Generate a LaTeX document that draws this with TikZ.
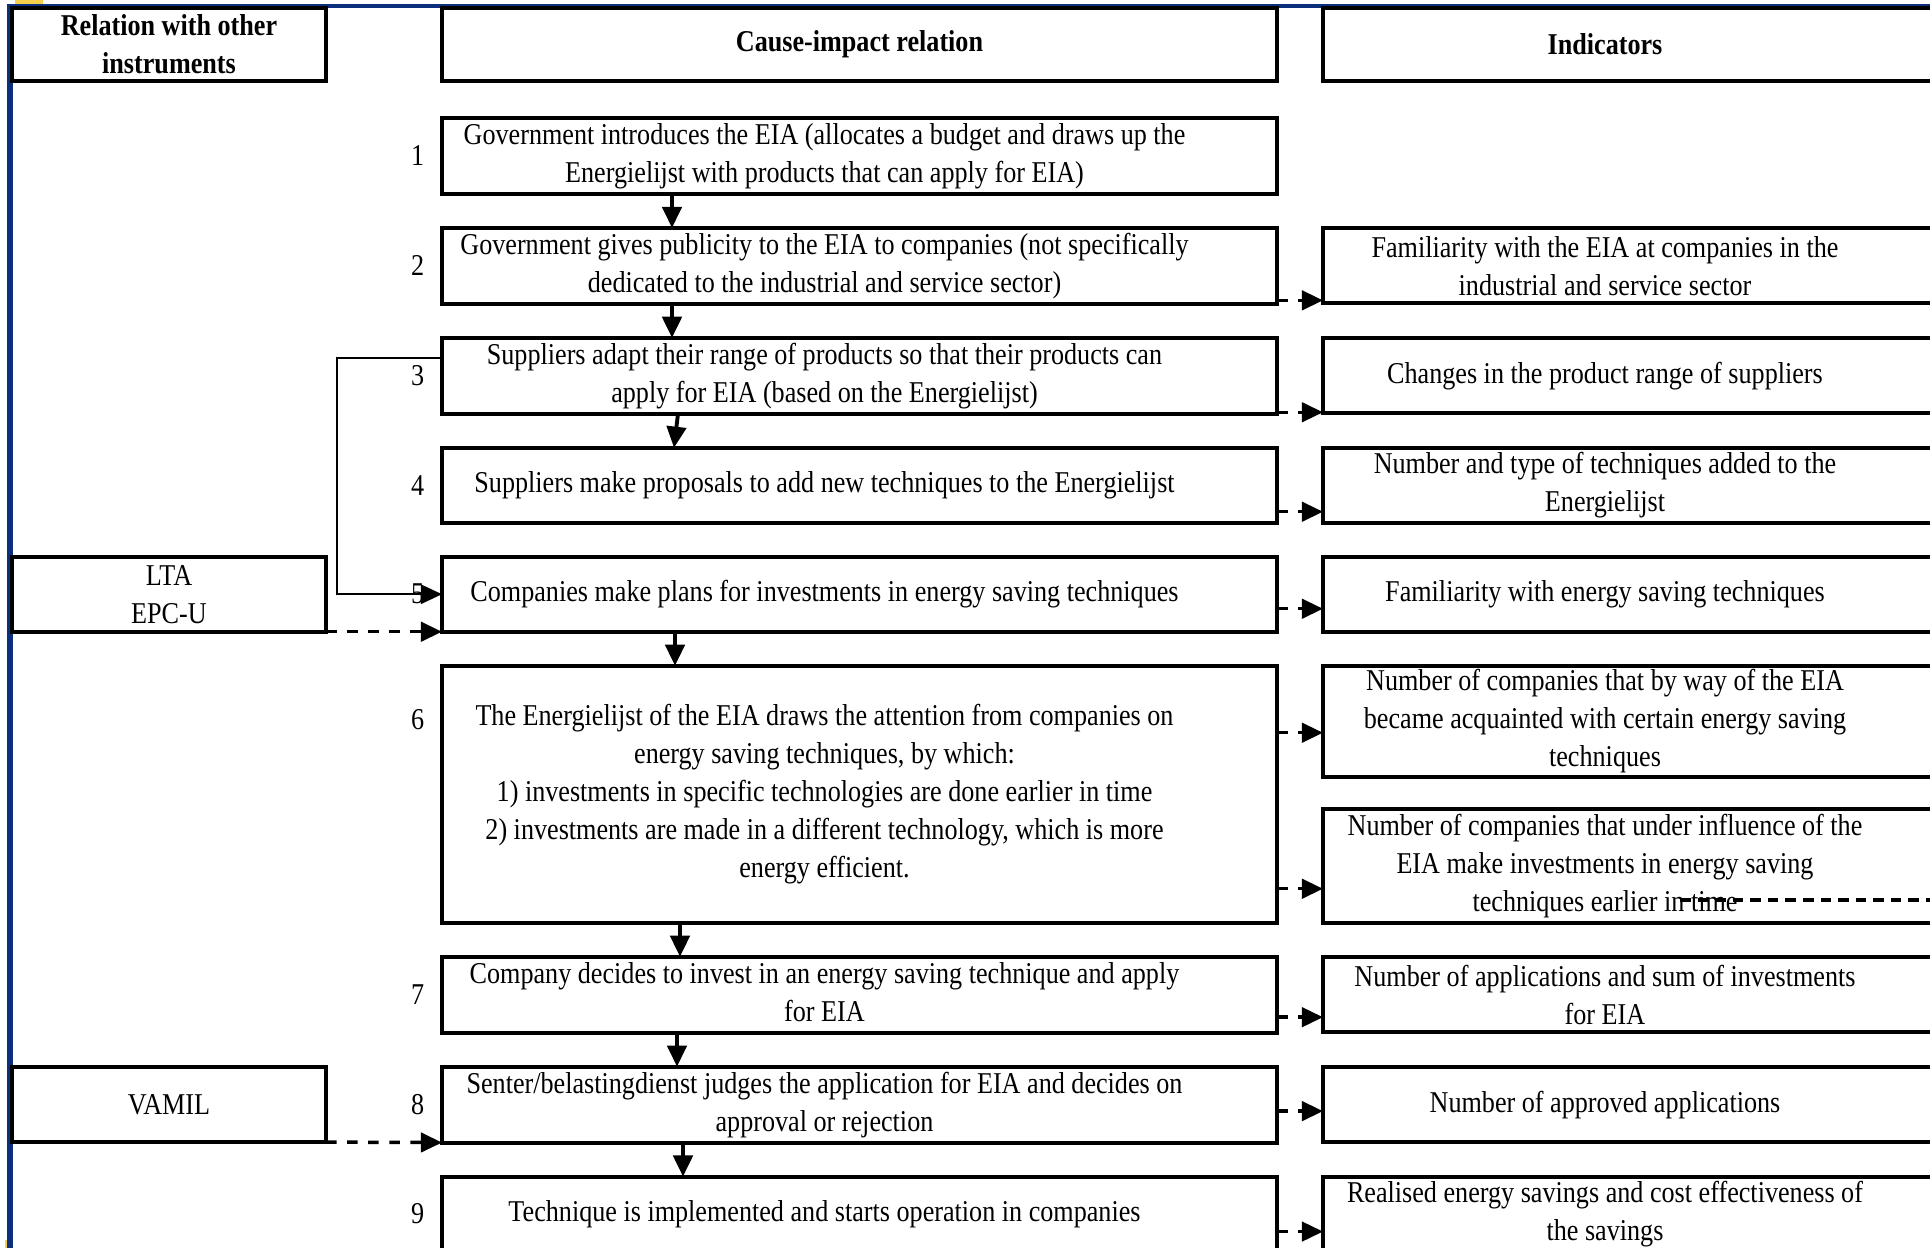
\documentclass[tikz,border=0pt]{standalone}
\usepackage{fontspec}
\setmainfont{Liberation Serif}[FakeStretch=0.865]
\usetikzlibrary{arrows.meta, positioning}

\definecolor{frameblue}{HTML}{0B2F7C}
\definecolor{frameyellow}{HTML}{F6CF4B}

% lines of a step, set a little left of the box centre
\newcommand{\causetext}[1]{\begin{tabular}{@{}c@{}}#1\end{tabular}\kern0.7cm}

\begin{document}
\begin{tikzpicture}[>={Triangle[length=6pt, width=5.5pt]},
    font=\fontsize{8.6pt}{10.8pt}\selectfont,
    box/.style={draw, line width=1.1pt, outer sep=0pt, inner sep=1pt, align=center},
    headbox/.style={box, font=\fontsize{8.6pt}{10.8pt}\selectfont\bfseries, minimum height=0.73cm},
    causebox/.style={draw, line width=1.1pt, outer sep=0pt, inner sep=0pt, minimum width=8.35cm, minimum height=0.75cm},
    instbox/.style={box, minimum width=3.14cm, minimum height=0.75cm},
    indbox/.style={outer sep=0pt, inner sep=1pt, align=center, minimum width=5.64cm, minimum height=0.75cm},
    num/.style={inner sep=0pt},
    flow/.style={->, line width=1.1pt},
    link/.style={->, line width=0.5pt},
    measure/.style={->, line width=1pt, dash pattern=on 3pt off 3pt}]

    % ================= Canvas =================
    \clip (0,0) rectangle (19.30,-12.48);
    \fill[frameyellow] (0.15,0) rectangle (0.43,-0.04);
    \fill[frameyellow] (0.05,-12.40) rectangle (0.09,-12.48);
    \draw[frameblue, line width=1.7pt] (0.10,-12.48) -- (0.10,-0.06);
    \draw[frameblue, line width=1.1pt] (0.07,-0.06) -- (19.40,-0.06);

    % ================= Column headers =================
    \node[headbox, minimum width=3.14cm, anchor=north west] (lh) at (0.12,-0.08) {Relation with other\\instruments};
    \node[headbox, minimum width=8.35cm, anchor=north west] (mh) at (4.42,-0.08) {Cause-impact relation};
    \node[headbox, draw=none, minimum width=5.64cm, right=0.46cm of mh] (rh) {Indicators};

    % ================= Cause-impact chain =================
    \node[causebox, below=0.37cm of mh] (m1) {\causetext{Government introduces the EIA (allocates a budget and draws up the\\Energielijst with products that can apply for EIA)}};
    \node[causebox, below=0.34cm of m1] (m2) {\causetext{Government gives publicity to the EIA to companies (not specifically\\dedicated to the industrial and service sector)}};
    \node[causebox, below=0.34cm of m2] (m3) {\causetext{Suppliers adapt their range of products so that their products can\\apply for EIA (based on the Energielijst)}};
    \node[causebox, below=0.34cm of m3] (m4) {\causetext{Suppliers make proposals to add new techniques to the Energielijst}};
    \node[causebox, below=0.34cm of m4] (m5) {\causetext{Companies make plans for investments in energy saving techniques}};
    \node[causebox, below=0.34cm of m5, minimum height=2.57cm] (m6) {\causetext{The Energielijst of the EIA draws the attention from companies on\\energy saving techniques, by which:\\1) investments in specific technologies are done earlier in time\\2) investments are made in a different technology, which is more\\energy efficient.}};
    \node[causebox, below=0.34cm of m6] (m7) {\causetext{Company decides to invest in an energy saving technique and apply\\for EIA}};
    \node[causebox, below=0.34cm of m7] (m8) {\causetext{Senter/belastingdienst judges the application for EIA and decides on\\approval or rejection}};
    \node[causebox, below=0.34cm of m8] (m9) {\causetext{Technique is implemented and starts operation in companies}};

    % step numbers
    \node[num, left=0.17cm of m1] (n1) {1};
    \node[num, left=0.17cm of m2] (n2) {2};
    \node[num, left=0.17cm of m3] (n3) {3};
    \node[num, left=0.17cm of m4] (n4) {4};
    \node[num, left=0.17cm of m5] (n5) {5};
    \node[num, left=0.17cm of m6.west, yshift=0.75cm] (n6) {6};
    \node[num, left=0.17cm of m7] (n7) {7};
    \node[num, left=0.17cm of m8] (n8) {8};
    \node[num, left=0.17cm of m9] (n9) {9};

    % ================= Other instruments =================
    \node[instbox, left=1.16cm of m5] (lta) {LTA\\EPC-U};
    \node[instbox, left=1.16cm of m8] (vamil) {VAMIL};

    % ================= Indicators =================
    \node[indbox, right=0.46cm of m2] (r2) {Familiarity with the EIA at companies in the\\industrial and service sector};
    \node[indbox, right=0.46cm of m3] (r3) {Changes in the product range of suppliers};
    \node[indbox, right=0.46cm of m4] (r4) {Number and type of techniques added to the\\Energielijst};
    \node[indbox, right=0.46cm of m5] (r5) {Familiarity with energy saving techniques};
    \node[indbox, minimum height=1.11cm, right=0.46cm of m6.north east, anchor=north west] (r6a) {Number of companies that by way of the EIA\\became acquainted with certain energy saving\\techniques};
    \node[indbox, minimum height=1.14cm, right=0.46cm of m6.south east, anchor=south west] (r6b) {Number of companies that under influence of the\\EIA make investments in energy saving\\techniques earlier in time};
    \node[indbox, right=0.46cm of m7] (r7) {Number of applications and sum of investments\\for EIA};
    \node[indbox, right=0.46cm of m8] (r8) {Number of approved applications};
    \node[indbox, right=0.46cm of m9] (r9) {Realised energy savings and cost effectiveness of\\the savings};

    % indicator boxes run off the right edge
    \foreach \n in {rh,r2,r3,r4,r5,r6a,r6b,r7,r8,r9}
        \draw[line width=1.1pt] ([xshift=1cm]\n.north east) -- (\n.north west) -- (\n.south west) -- ([xshift=1cm]\n.south east);

    % ================= Connectors =================
    \foreach \a/\b/\dxa/\dxb in {m1/m2/-1.875/-1.875, m2/m3/-1.875/-1.875, m3/m4/-1.815/-1.855,
                                 m5/m6/-1.845/-1.845, m6/m7/-1.795/-1.795, m7/m8/-1.825/-1.825, m8/m9/-1.765/-1.765}
        \draw[flow] ([xshift=\dxa cm]\a.south) -- ([xshift=\dxb cm]\b.north);

    % suppliers feed the investment plans
    \draw[link] ([yshift=-0.2cm]m3.north west) -- ++(-1.05,0) |- (m5.west);

    % other instruments
    \draw[measure] (lta.south east) -- (m5.south west);
    \draw[measure] (vamil.south east) -- (m8.south west);

    % step -> indicator
    \foreach \s/\d/\dy in {m2/r2/0.03, m3/r3/0.01, m4/r4/0.11, m5/r5/0.23, m6/r6a/0.44,
                           m6/r6b/0.34, m7/r7/0.15, m8/r8/0.31, m9/r9/0.20} {
        \coordinate (t) at ([yshift=\dy cm]\d.south west);
        \draw[measure] (t -| \s.east) -- (t);
    }

    % dashed line leaving box 6b
    \coordinate (stubL) at (16.80,-9.00);
    \coordinate (stubR) at (19.60,-9.00);
    \draw[line width=1pt, dash pattern=on 3pt off 2pt] (stubL) -- (stubR);

\end{tikzpicture}
\end{document}
